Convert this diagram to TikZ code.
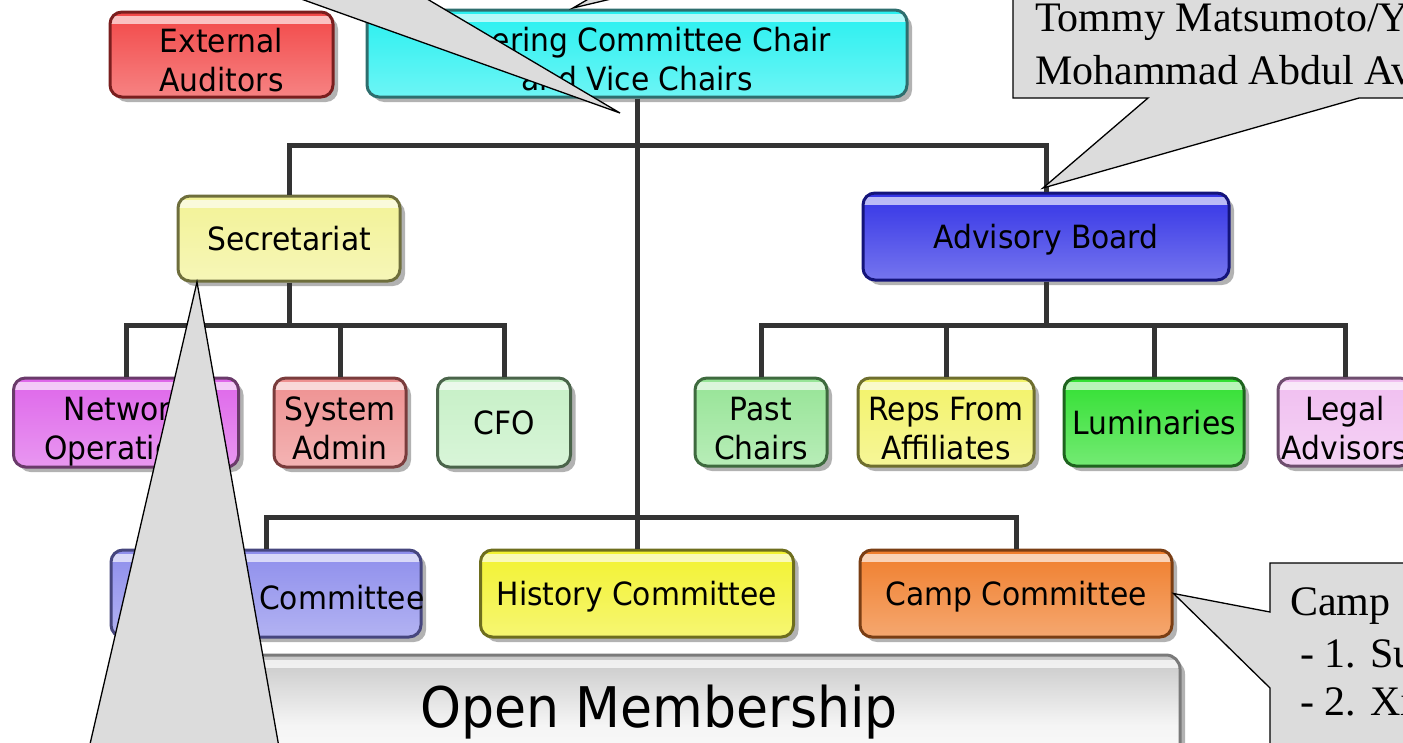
\documentclass[tikz,border=0pt]{standalone}
\usepackage{fontspec}
\setmainfont{Liberation Serif}
\newfontfamily\dvc[FakeStretch=0.93]{DejaVu Sans}
\usetikzlibrary{shadows}
\newcommand\twoline[2]{\raisebox{-16pt}[0pt][0pt]{\begin{tabular}{@{}c@{}}#1\\#2\end{tabular}}}
\definecolor{extfill}{HTML}{F24848}\definecolor{extline}{HTML}{7A1E1E}
\definecolor{stfill}{HTML}{28F0F0}\definecolor{stline}{HTML}{2E6E6E}
\definecolor{secfill}{HTML}{F2F296}\definecolor{secline}{HTML}{6E6E3C}
\definecolor{advfill}{HTML}{3434E6}\definecolor{advline}{HTML}{14147A}
\definecolor{netfill}{HTML}{DE66EA}\definecolor{netline}{HTML}{6A3A6A}
\definecolor{sysfill}{HTML}{EE9090}\definecolor{sysline}{HTML}{7A3C3C}
\definecolor{cfofill}{HTML}{C6F0C6}\definecolor{cfoline}{HTML}{4A644A}
\definecolor{pastfill}{HTML}{96E496}\definecolor{pastline}{HTML}{3E6A3E}
\definecolor{repsfill}{HTML}{F2F268}\definecolor{repsline}{HTML}{6E6E2E}
\definecolor{lumfill}{HTML}{32E032}\definecolor{lumline}{HTML}{1E641E}
\definecolor{legfill}{HTML}{F0BEF0}\definecolor{legline}{HTML}{6E4E6E}
\definecolor{progfill}{HTML}{8E8EEC}\definecolor{progline}{HTML}{46467E}
\definecolor{histfill}{HTML}{F2F230}\definecolor{histline}{HTML}{6E6E1E}
\definecolor{campfill}{HTML}{F07E2C}\definecolor{campline}{HTML}{7A3E14}
\definecolor{omline}{HTML}{7A7A7A}
\definecolor{callgray}{HTML}{DCDCDC}
\begin{document}
\begin{tikzpicture}[x=1pt,y=-1pt,
  box/.style 2 args={draw=#2, line width=3pt, rounded corners=12pt,
    top color=#1, bottom color=#1!68!white,
    drop shadow={shadow xshift=5pt, shadow yshift=-5pt, opacity=.3, fill=black},
    font=\dvc\fontsize{32}{39}\selectfont, inner sep=0pt, text=black,
    path picture={\fill[white,opacity=.65,sharp corners] ([yshift=-4pt]path picture bounding box.north west) rectangle ([yshift=-12pt]path picture bounding box.north east);}},
  one/.style={text depth=0pt},
  lbl/.style={font=\dvc\fontsize{32}{37}\selectfont, inner sep=0pt, text=black},
  conn/.style={draw=black!80, line width=5pt},
  callout/.style={fill=callgray, draw=black, line width=1.3pt, line join=miter},
  ctext/.style={font=\fontsize{42}{48}\selectfont, inner sep=0pt, anchor=base west},
]
\useasboundingbox (0,0) rectangle (1403,742);
\clip (0,0) rectangle (1403,742);

% top row
\node[box={extfill}{extline}, minimum width=223pt, minimum height=85pt] (ext) at (221.5,54.5) {\twoline{External}{Auditors}};
\node[box={stfill}{stline}, minimum width=540pt, minimum height=87pt] (steer) at (637,53.5) {\twoline{Steering Committee Chair}{and Vice Chairs}};

% second row
\node[box={secfill}{secline}, one, minimum width=222pt, minimum height=85pt] (sec) at (289,238.5) {Secretariat};
\node[box={advfill}{advline}, one, minimum width=366pt, minimum height=87pt] (adv) at (1046,236.5) {Advisory Board};

% third row
\node[box={netfill}{netline}, minimum width=225pt, minimum height=89pt] (net) at (126,422.5) {\twoline{Network}{Operations}};
\node[box={sysfill}{sysline}, minimum width=132pt, minimum height=89pt] (sys) at (340,422.5) {\twoline{System}{Admin}};
\node[box={cfofill}{cfoline}, one, minimum width=133pt, minimum height=89pt] (cfo) at (504,422.5) {CFO};
\node[box={pastfill}{pastline}, minimum width=132pt, minimum height=88pt] (past) at (761,422) {\twoline{Past}{Chairs}};
\node[box={repsfill}{repsline}, minimum width=176pt, minimum height=88pt] (reps) at (946,422) {\twoline{Reps From}{Affiliates}};
\node[box={lumfill}{lumline}, one, minimum width=180pt, minimum height=88pt] (lum) at (1154,422) {Luminaries};
\node[box={legfill}{legline}, minimum width=134pt, minimum height=88pt] (legal) at (1345,422) {\twoline{Legal}{Advisors}};

% fourth row
\node[box={progfill}{progline}, minimum width=310pt, minimum height=87pt] (prog) at (266,593.5) {};
\node[lbl, anchor=west] (progtxt) at (259,598) {Committee};
\node[box={histfill}{histline}, one, minimum width=313pt, minimum height=87pt] (hist) at (637,593.5) {History Committee};
\node[box={campfill}{campline}, one, minimum width=312pt, minimum height=87pt] (camp) at (1016,593.5) {Camp Committee};

% open membership
\node[draw=omline, line width=3pt, rounded corners=14pt, top color=black!22, bottom color=white, middle color=white!96!black,
  drop shadow={shadow xshift=5pt, shadow yshift=-5pt, opacity=.3, fill=black},
  minimum width=1065pt, minimum height=140pt, inner sep=0pt,
  path picture={\fill[white,opacity=.7,sharp corners] ([yshift=-5pt]path picture bounding box.north west) rectangle ([yshift=-13pt]path picture bounding box.north east);}] (om) at (647.5,725) {};
\node[font=\dvc\fontsize{56}{60}\selectfont, inner sep=0pt] (omtxt) at (659,712) {Open Membership};

% connectors
\coordinate (j1) at (637,145);
\coordinate (j2) at (289,325);
\coordinate (j3) at (1046,325);
\coordinate (j4) at (637,517);
\draw[conn] (steer.south) -- (steer.south |- hist.north);
\draw[conn] (sec.north) |- (j1) -| (adv.north);
\draw[conn] (sec.south) -- (j2);
\draw[conn] (net.north) |- (j2) -| (cfo.north);
\draw[conn] (sys.north) -- (sys.north |- j2);
\draw[conn] (adv.south) -- (j3);
\draw[conn] (past.north) |- (j3) -| (legal.north);
\draw[conn] (reps.north) -- (reps.north |- j3);
\draw[conn] (lum.north) -- (lum.north |- j3);
\draw[conn] (prog.north) |- (j4) -| (camp.north);

% callouts
\path[callout] (248,-20) -- (620,113) -- (395,-20) -- cycle;
\path[callout] (604,-10) -- (573,8) -- (649,-10) -- cycle;
\path[callout] (1013,-30) -- (1013,98) -- (1148,98) -- (1043,188) -- (1359,98) -- (1430,98) -- (1430,-30) -- cycle;
\path[callout] (84,770) -- (197,282) -- (283,770) -- cycle;
\path[callout] (1270,563) -- (1270,612) -- (camp.east) -- (1270,688) -- (1270,770) -- (1430,770) -- (1430,563) -- cycle;

\node[ctext] (tom) at (1035,31) {Tommy Matsumoto/Y};
\node[ctext] (moh) at (1035,84) {Mohammad Abdul Av};
\node[ctext] (cmp) at (1290,615) {Camp};
\node[ctext] (c1) at (1300,667) {- 1. Su};
\node[ctext] (c2) at (1300,715) {- 2. Xi};
\end{tikzpicture}
\end{document}
